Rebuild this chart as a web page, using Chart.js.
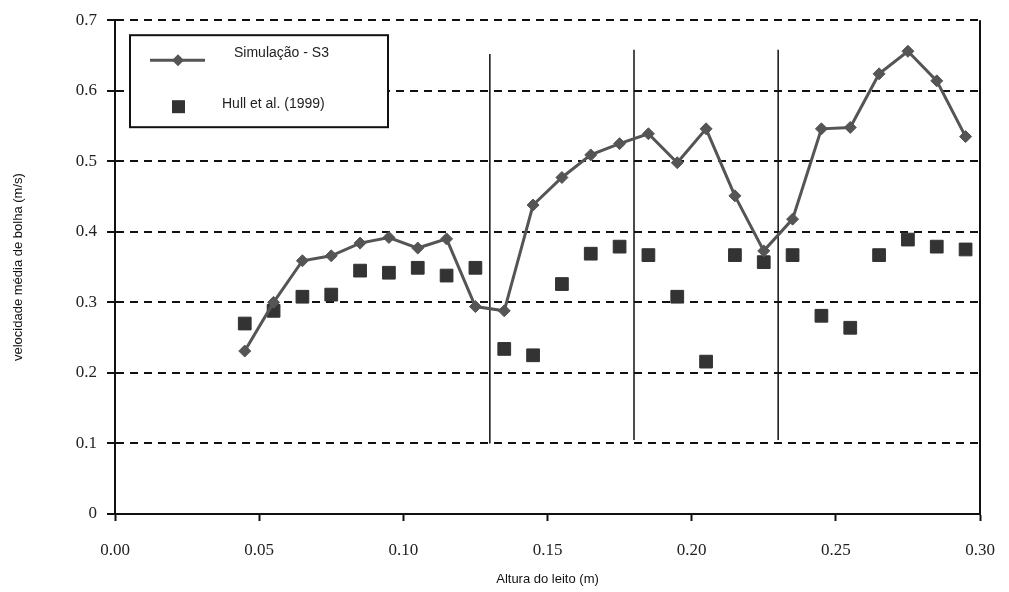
<!DOCTYPE html>
<html>
<head>
<meta charset="utf-8">
<title>Velocidade média de bolha</title>
<script src="https://cdn.jsdelivr.net/npm/chart.js@4.4.1/dist/chart.umd.min.js"></script>
<style>
  body { margin: 0; background: #fff; }
  canvas { display: block; }
</style>
</head>
<body>
<canvas id="myChart" width="1009" height="592"></canvas>
<script>
'use strict';

// Bed heights (m) where both series were measured
let heights = [0.045, 0.055, 0.065, 0.075, 0.085, 0.095, 0.105, 0.115, 0.125, 0.135,
  0.145, 0.155, 0.165, 0.175, 0.185, 0.195, 0.205, 0.215, 0.225, 0.235,
  0.245, 0.255, 0.265, 0.275, 0.285, 0.295];

// Simulação - S3
let simValues = [0.231, 0.300, 0.359, 0.366, 0.384, 0.392, 0.377, 0.390, 0.294, 0.288,
  0.438, 0.477, 0.509, 0.525, 0.539, 0.498, 0.546, 0.451, 0.373, 0.418,
  0.546, 0.548, 0.624, 0.656, 0.614, 0.535];

// Hull et al. (1999)
let hullValues = [0.270, 0.288, 0.308, 0.311, 0.345, 0.342, 0.349, 0.338, 0.349, 0.234,
  0.225, 0.326, 0.369, 0.379, 0.367, 0.308, 0.216, 0.367, 0.357, 0.367,
  0.281, 0.264, 0.367, 0.389, 0.379, 0.375];

// vertical section separators
let sectionX = [0.13, 0.18, 0.23];
let sectionTop = [0.652, 0.658, 0.658];
let sectionBottom = [0.1, 0.105, 0.105];

let xTicks = [0, 0.05, 0.10, 0.15, 0.20, 0.25, 0.30];
let yTicks = [0, 0.1, 0.2, 0.3, 0.4, 0.5, 0.6, 0.7];

let simLabel = 'Simulação - S3';
let hullLabel = 'Hull et al. (1999)';
let xTitle = 'Altura do leito (m)';
let yTitle = 'velocidade média de bolha (m/s)';


function toPoints(xs, ys) {
  let pts = [];
  for (let i = 0; i < xs.length; i++) {
    pts.push({ x: xs[i], y: ys[i] });
  }
  return pts;
}

let datasets = [
  {
    label: simLabel,
    data: toPoints(heights, simValues),
    showLine: true,
    borderColor: '#555',
    borderWidth: 3,
    pointStyle: 'rectRot',
    pointRadius: 6,
    pointBackgroundColor: '#555',
    pointBorderColor: '#555',
    pointBorderWidth: 1,
    order: 1
  },
  {
    label: hullLabel,
    data: toPoints(heights, hullValues),
    showLine: false,
    pointStyle: 'rect',
    pointRadius: 9,
    pointBackgroundColor: '#333',
    pointBorderColor: '#333',
    pointBorderWidth: 1,
    order: 2
  }
];

for (let i = 0; i < sectionX.length; i++) {
  datasets.push({
    label: 'separator',
    data: [{ x: sectionX[i], y: sectionBottom[i] }, { x: sectionX[i], y: sectionTop[i] }],
    showLine: true,
    borderColor: '#111',
    borderWidth: 1.5,
    pointRadius: 0,
    order: 3
  });
}


// Legend box inside the plot and the right-hand frame line
let framePlugin = {
  id: 'frameAndLegend',
  afterDatasetsDraw(chart) {
    let ctx = chart.ctx;
    let area = chart.chartArea;

    ctx.save();
    ctx.strokeStyle = '#111';
    ctx.lineWidth = 2;
    ctx.beginPath();
    ctx.moveTo(area.right, area.top);
    ctx.lineTo(area.right, area.bottom);
    ctx.stroke();

    let bx = area.left + 15;
    let by = area.top + 15;
    let bw = 258;
    let bh = 92;
    ctx.fillStyle = '#fff';
    ctx.fillRect(bx, by, bw, bh);
    ctx.lineWidth = 2;
    ctx.strokeStyle = '#111';
    ctx.strokeRect(bx, by, bw, bh);

    // line + diamond sample
    let sy = by + 25;
    ctx.strokeStyle = '#555';
    ctx.lineWidth = 3;
    ctx.beginPath();
    ctx.moveTo(bx + 20, sy);
    ctx.lineTo(bx + 75, sy);
    ctx.stroke();
    ctx.fillStyle = '#555';
    ctx.beginPath();
    ctx.moveTo(bx + 48, sy - 6);
    ctx.lineTo(bx + 54, sy);
    ctx.lineTo(bx + 48, sy + 6);
    ctx.lineTo(bx + 42, sy);
    ctx.closePath();
    ctx.fill();

    // square sample
    ctx.fillStyle = '#333';
    ctx.fillRect(bx + 42, by + 65, 13, 13);

    ctx.fillStyle = '#222';
    ctx.font = '14px "Liberation Sans", Arial, sans-serif';
    ctx.textBaseline = 'middle';
    ctx.textAlign = 'left';
    ctx.fillText(chart.data.datasets[0].label, bx + 104, by + 18);
    ctx.fillText(chart.data.datasets[1].label, bx + 92, by + 69);
    ctx.restore();
  }
};


let chartObject = {
  type: 'scatter',
  data: { datasets: datasets },
  options: {
    responsive: false,
    animation: false,
    layout: { padding: { top: 20, right: 29, left: 0, bottom: 0 } },
    plugins: {
      legend: { display: false },
      tooltip: { enabled: false }
    },
    scales: {
      x: {
        type: 'linear',
        min: 0,
        max: 0.3,
        afterBuildTicks(scale) {
          scale.ticks = xTicks.map(v => ({ value: v }));
        },
        afterFit(scale) {
          scale.height = 78;
          scale.paddingLeft = 0;
          scale.paddingRight = 0;
        },
        grid: {
          drawOnChartArea: false,
          drawTicks: true,
          tickLength: 7,
          tickColor: '#111',
          tickWidth: 2
        },
        border: { display: true, color: '#111', width: 2 },
        ticks: {
          padding: 19,
          color: '#222',
          font: { family: '"Liberation Serif", "Times New Roman", serif', size: 17 },
          callback: v => Number(v).toFixed(2)
        },
        title: {
          display: true,
          text: xTitle,
          color: '#111',
          padding: { top: 0, bottom: 5 },
          font: { family: '"Liberation Sans", Arial, sans-serif', size: 13 }
        }
      },
      y: {
        type: 'linear',
        min: 0,
        max: 0.7,
        afterBuildTicks(scale) {
          scale.ticks = yTicks.map(v => ({ value: v }));
        },
        afterFit(scale) {
          scale.width = 115;
        },
        grid: {
          color: '#111',
          lineWidth: 2,
          drawTicks: true,
          tickLength: 8,
          tickColor: '#111',
          tickWidth: 2,
          tickBorderDash: []
        },
        border: { display: true, color: '#111', width: 2, dash: [8, 6] },
        ticks: {
          padding: 10,
          color: '#222',
          font: { family: '"Liberation Serif", "Times New Roman", serif', size: 17 },
          callback: v => String(Math.round(v * 10) / 10)
        },
        title: {
          display: true,
          text: yTitle,
          color: '#111',
          padding: { top: 11, bottom: 0 },
          font: { family: '"Liberation Sans", Arial, sans-serif', size: 13 }
        }
      }
    }
  },
  plugins: [framePlugin]
};

let ctx = document.getElementById('myChart').getContext('2d');
let myChart = new Chart(ctx, chartObject);
</script>
</body>
</html>
